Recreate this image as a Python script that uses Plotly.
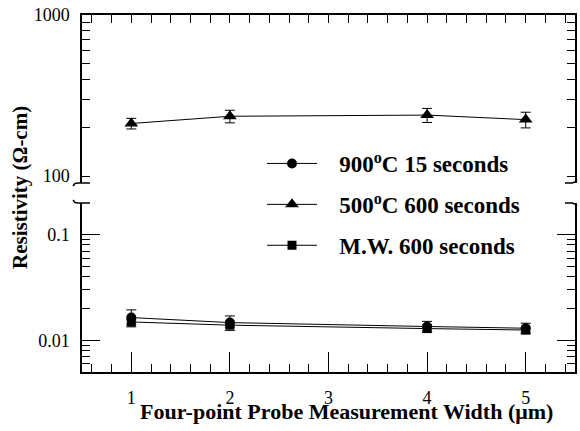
import numpy as np
import plotly.graph_objects as go

# ---------------- data ----------------
widths = [1, 2, 4, 5]

names = ["900<sup>o</sup>C 15 seconds", "500<sup>o</sup>C 600 seconds", "M.W. 600 seconds"]

rho_900 = [0.0164, 0.0147, 0.0135, 0.0130]
err_900 = [0.0030, 0.0023, 0.0016, 0.0015]

rho_500 = [212, 235, 239, 224]
err_500 = [16, 21, 24, 25]

rho_mw = [0.0149, 0.0139, 0.0129, 0.0125]
err_mw = [0.0007, 0.0006, 0.0006, 0.0006]

x_ticks = [1, 2, 3, 4, 5]
top_ticks = [100, 1000]
top_minor = [200, 300, 400, 500, 600, 700, 800, 900]
bot_ticks = [0.01, 0.1]
bot_ticktext = ["0.01", "0.1"]
bot_minor = [0.005, 0.006, 0.007, 0.008, 0.009,
             0.02, 0.03, 0.04, 0.05, 0.06, 0.07, 0.08, 0.09, 0.2]

# ---------------- layout geometry ----------------
W, H = 580, 431
ML, MR, MT, MB = 82, 5, 15, 59
PW = W - ML - MR
PH = H - MT - MB


def px_x(p):
    return (p - ML) / PW


def px_y(p):
    return (H - MB - p) / PH


top_dom = [px_y(183), 1.0]
bot_dom = [0.0, px_y(203)]

FONT = "Liberation Serif"
BLACK = "black"
PAD = "\u00a0\u00a0\u00a0"

fig = go.Figure()

common_line = dict(color=BLACK, width=1)
err_style = dict(type="data", color=BLACK, thickness=1, width=5)

fig.add_trace(go.Scatter(
    x=widths, y=rho_900, name=PAD + names[0], legendgroup="a",
    mode="lines+markers", line=common_line,
    marker=dict(symbol="circle", size=10, color=BLACK),
    error_y=dict(array=err_900, **err_style),
    xaxis="x", yaxis="y"))

fig.add_trace(go.Scatter(
    x=widths, y=rho_500, name=PAD + names[1], legendgroup="b",
    mode="lines+markers", line=common_line,
    marker=dict(symbol="triangle-up", size=12, color=BLACK),
    error_y=dict(array=err_500, **err_style),
    xaxis="x2", yaxis="y2"))

fig.add_trace(go.Scatter(
    x=widths, y=rho_mw, name=PAD + names[2], legendgroup="c",
    mode="lines+markers", line=common_line,
    marker=dict(symbol="square", size=9, color=BLACK),
    error_y=dict(array=err_mw, **err_style),
    xaxis="x", yaxis="y"))

# invisible helper trace so the tick-label axis (x3) is drawn
fig.add_trace(go.Scatter(
    x=widths, y=rho_mw, mode="markers", marker=dict(opacity=0),
    showlegend=False, hoverinfo="skip", xaxis="x3", yaxis="y"))

axis_common = dict(showgrid=False, zeroline=False, showline=True,
                   linecolor=BLACK, linewidth=1.5, tickcolor=BLACK,
                   tickwidth=1.2, ticks="inside", automargin=False)

fig.update_layout(
    template="none",
    width=W, height=H,
    margin=dict(l=ML, r=MR, t=MT, b=MB, autoexpand=False),
    paper_bgcolor="white", plot_bgcolor="white",
    font=dict(family=FONT, color=BLACK, size=18),
    showlegend=True,
    legend=dict(x=px_x(262), y=px_y(142), xanchor="left", yanchor="top",
                font=dict(family=FONT, size=23, color=BLACK, weight="bold"),
                bgcolor="rgba(0,0,0,0)", borderwidth=0,
                tracegroupgap=8, itemwidth=50),
    xaxis=dict(domain=[0, 1], anchor="y", range=[0.5, 5.5],
               tickvals=x_ticks, ticklen=20, showticklabels=False,
               minor=dict(ticks="inside", ticklen=8, dtick=0.2, tick0=0,
                          tickcolor=BLACK, tickwidth=1.2),
               **axis_common),
    # tick labels of the bottom axis (transparent outside ticks set the gap)
    xaxis3=dict(domain=[0, 1], anchor="y", overlaying="x", side="bottom",
                range=[0.5, 5.5], tickvals=x_ticks, ticks="outside",
                ticklen=9, tickcolor="rgba(0,0,0,0)", showline=False,
                showgrid=False, zeroline=False, automargin=False,
                tickfont=dict(family=FONT, size=18, color=BLACK)),
    xaxis2=dict(domain=[0, 1], anchor="y2", matches="x", side="top",
                range=[0.5, 5.5], tickvals=x_ticks, ticklen=0,
                showticklabels=False,
                minor=dict(ticks="inside", ticklen=8, dtick=0.2, tick0=0,
                           tickcolor=BLACK, tickwidth=1.2),
                **axis_common),
    yaxis=dict(domain=bot_dom, anchor="x", type="log",
               range=[np.log10(0.005), np.log10(0.2)],
               tickvals=bot_ticks, ticktext=bot_ticktext, ticklen=18,
               mirror="ticks", ticklabelstandoff=7,
               tickfont=dict(family=FONT, size=18),
               minor=dict(ticks="inside", ticklen=8, tickvals=bot_minor,
                          tickcolor=BLACK, tickwidth=1.2),
               **axis_common),
    yaxis2=dict(domain=top_dom, anchor="x2", type="log",
                range=[np.log10(90.5), 3],
                tickvals=top_ticks, ticktext=[str(v) for v in top_ticks],
                ticklen=8, mirror="ticks", ticklabelstandoff=7,
                tickfont=dict(family=FONT, size=18),
                minor=dict(ticks="inside", ticklen=8, tickvals=top_minor,
                           tickcolor=BLACK, tickwidth=1.2),
                **axis_common),
)

# axis titles
fig.add_annotation(text="<b>Four-point Probe Measurement Width (\u03bcm)</b>",
                   xref="paper", yref="paper", x=px_x(346), y=0,
                   xanchor="center", yanchor="middle", yshift=-39,
                   showarrow=False, font=dict(family=FONT, size=22, color=BLACK))
fig.add_annotation(text="<b>Resistivity (\u03a9-cm)</b>",
                   xref="paper", yref="paper", x=px_x(20), y=px_y(188),
                   xanchor="center", yanchor="middle", textangle=-90,
                   showarrow=False, font=dict(family=FONT, size=21, color=BLACK))


# axis-break hooks
def path(points):
    s = ""
    for i, (a, b) in enumerate(points):
        s += ("M" if i == 0 else "L") + f"{px_x(a):.5f},{px_y(b):.5f} "
    return s


hooks = [
    [(73, 186), (75, 183.5), (78, 183), (90, 183)],
    [(73, 200), (75, 202.5), (78, 203), (90, 203)],
    [(565, 183), (572, 183), (575, 182), (577, 180)],
    [(565, 203), (572, 203), (575, 204), (577, 206)],
]
for h in hooks:
    fig.add_shape(type="path", path=path(h), xref="paper", yref="paper",
                  line=dict(color=BLACK, width=1.5))

fig.write_html("out.html",
               config={"displayModeBar": False},
               post_script="document.body.style.margin='0px';"
                           "document.body.style.overflow='hidden';")
